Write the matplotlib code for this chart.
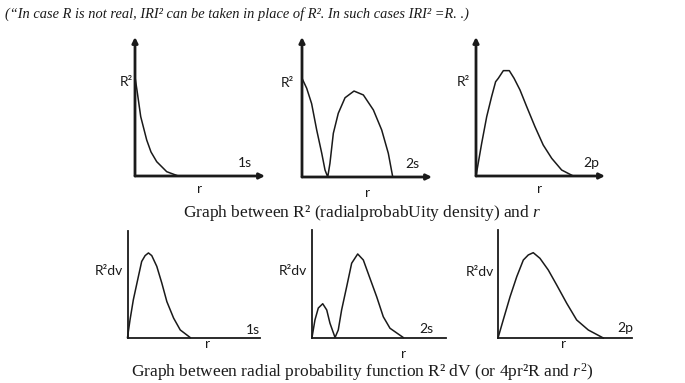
import matplotlib
matplotlib.use("Agg")
import matplotlib.pyplot as plt

plt.rcParams['mathtext.fontset'] = 'custom'
plt.rcParams['mathtext.rm'] = 'Liberation Serif'
plt.rcParams['mathtext.it'] = 'Liberation Serif:italic'

W, H = 685, 383

# ---------------- data (arbitrary units, axes span 0..10) ----------------
r_1s_top = [0, 0.15, 0.44, 0.90, 1.23, 1.67, 2.44, 3.33]
R2_1s_top = [7.12, 6.19, 4.27, 2.59, 1.73, 1.03, 0.31, 0]

r_2s_top = [0, 0.36, 0.74, 1.13, 1.52, 1.77, 1.98, 2.15, 2.41, 2.79, 3.31, 4.0, 4.72, 5.49, 6.13, 6.64, 6.98]
R2_2s_top = [7.05, 6.34, 5.24, 3.36, 1.69, 0.5, 0, 0.98, 3.12, 4.55, 5.66, 6.14, 5.86, 4.79, 3.36, 1.69, 0]

r_2p_top = [0, 0.44, 0.83, 1.21, 1.52, 1.73, 2.12, 2.58, 2.95, 3.41, 3.93, 4.57, 5.21, 5.87, 6.64, 7.54]
R2_2p_top = [0, 2.35, 4.27, 5.71, 6.78, 7.03, 7.58, 7.58, 7.03, 6.19, 4.99, 3.55, 2.23, 1.27, 0.43, 0]

r_1s_bot = [0, 0.19, 0.44, 0.82, 1.07, 1.33, 1.58, 1.83, 2.21, 2.59, 2.97, 3.48, 3.98, 4.73]
P_1s_bot = [0, 1.65, 3.54, 5.72, 7.14, 7.69, 7.94, 7.69, 6.68, 5.11, 3.37, 1.82, 0.71, 0]

r_2s_bot = [0, 0.22, 0.47, 0.80, 1.10, 1.34, 1.72, 1.96, 2.21, 2.59, 2.96, 3.41, 3.83, 4.33, 4.83, 5.32, 5.82, 6.81]
P_2s_bot = [0, 1.63, 2.74, 3.14, 2.56, 1.33, 0, 0.70, 2.56, 4.74, 6.91, 7.77, 7.21, 5.49, 3.78, 1.93, 0.86, 0]

r_2p_bot = [0, 0.39, 0.90, 1.40, 1.89, 2.26, 2.63, 3.13, 3.75, 4.38, 5.13, 5.87, 6.74, 7.86]
P_2p_bot = [0, 1.67, 3.82, 5.68, 7.22, 7.69, 7.9, 7.38, 6.30, 4.91, 3.21, 1.67, 0.74, 0]

orbitals = ["1s", "2s", "2p"]
top_ylabel = "R²"
bot_ylabel = "R²dv"
xlabel = "r"
title = "(“In case R is not real, IRI² can be taken in place of R². In such cases IRI² =R. .)"
caption_top = "Graph between R² (radialprobabUity density) and $r$"
caption_bot = "Graph between radial probability function R² dV (or 4pr²R and $r^2$)"

top_series = [(r_1s_top, R2_1s_top), (r_2s_top, R2_2s_top), (r_2p_top, R2_2p_top)]
bot_series = [(r_1s_bot, P_1s_bot), (r_2s_bot, P_2s_bot), (r_2p_bot, P_2p_bot)]

# ---------------- layout (pixels) ----------------
# (x0, x1, y_axis_line, y_top)
top_boxes = [(135, 265, 176, 37), (302, 432, 177, 37), (476, 605, 176, 37)]
bot_boxes = [(127.5, 260, 337.5, 231), (312, 446, 337.5, 230), (498, 632, 338, 230)]

top_ylab_pos = [(133, 82), (294, 83), (470, 82)]
top_orb_pos = [(245, 167), (412, 168), (591, 167)]
top_r_pos = [(199.5, 193), (368, 197), (540, 193)]
bot_ylab_pos = [(108.5, 275), (292.5, 275), (480, 276)]
bot_orb_pos = [(252.5, 334), (426.5, 333), (625, 332)]
bot_r_pos = [(207.5, 348), (403.5, 358), (564, 348)]

fig = plt.figure(figsize=(W / 100, H / 100), dpi=100)
fig.patch.set_facecolor("white")


def fx(x):
    return x / W


def fy(y):
    return 1 - y / H


sans = "Lato"
ink = "#1a1a1a"


def make_ax(box):
    x0, x1, yb, yt = box
    ax = fig.add_axes([fx(x0), fy(yb), (x1 - x0) / W, (yb - yt) / H])
    ax.set_xlim(0, 10)
    ax.set_ylim(0, 10)
    ax.set_xticks([])
    ax.set_yticks([])
    ax.patch.set_alpha(0)
    for s in ax.spines.values():
        s.set_visible(False)
    return ax


for i, box in enumerate(top_boxes):
    ax = make_ax(box)
    ap = dict(arrowstyle="-|>", lw=2.0, color=ink, mutation_scale=8, shrinkA=0, shrinkB=0)
    ax.annotate("", xy=(0, 1), xytext=(0, 0), xycoords="axes fraction", arrowprops=ap)
    ax.annotate("", xy=(1, 0), xytext=(0, 0), xycoords="axes fraction", arrowprops=ap)
    r, v = top_series[i]
    ax.plot(r, v, color=ink, lw=1.1, clip_on=False)
    fig.text(fx(top_ylab_pos[i][0]), fy(top_ylab_pos[i][1]), top_ylabel, ha="right", va="center",
             fontsize=10, family=sans, color=ink)
    fig.text(fx(top_orb_pos[i][0]), fy(top_orb_pos[i][1]), orbitals[i], ha="center", va="baseline",
             fontsize=10, family=sans, color=ink)
    fig.text(fx(top_r_pos[i][0]), fy(top_r_pos[i][1]), xlabel, ha="center", va="baseline",
             fontsize=10, family=sans, color=ink)

for i, box in enumerate(bot_boxes):
    ax = make_ax(box)
    ax.spines["left"].set_visible(True)
    ax.spines["bottom"].set_visible(True)
    ax.spines["left"].set_linewidth(1.3)
    ax.spines["bottom"].set_linewidth(1.3)
    ax.spines["left"].set_color(ink)
    ax.spines["bottom"].set_color(ink)
    r, v = bot_series[i]
    ax.plot(r, v, color=ink, lw=1.1, clip_on=False)
    fig.text(fx(bot_ylab_pos[i][0]), fy(bot_ylab_pos[i][1]), bot_ylabel, ha="center", va="baseline",
             fontsize=10, family=sans, color=ink)
    fig.text(fx(bot_orb_pos[i][0]), fy(bot_orb_pos[i][1]), orbitals[i], ha="center", va="baseline",
             fontsize=10, family=sans, color=ink)
    fig.text(fx(bot_r_pos[i][0]), fy(bot_r_pos[i][1]), xlabel, ha="center", va="baseline",
             fontsize=10, family=sans, color=ink)

fig.text(fx(5), fy(18), title, ha="left", va="baseline", fontsize=10.4,
         family="Liberation Serif", style="italic", color=ink)
fig.text(fx(362), fy(217), caption_top, ha="center", va="baseline", fontsize=12.5,
         family="Liberation Serif", color=ink)
fig.text(fx(362), fy(377), caption_bot, ha="center", va="baseline", fontsize=12.5,
         family="Liberation Serif", color=ink)

fig.savefig("out.png", dpi=100, facecolor="white")
